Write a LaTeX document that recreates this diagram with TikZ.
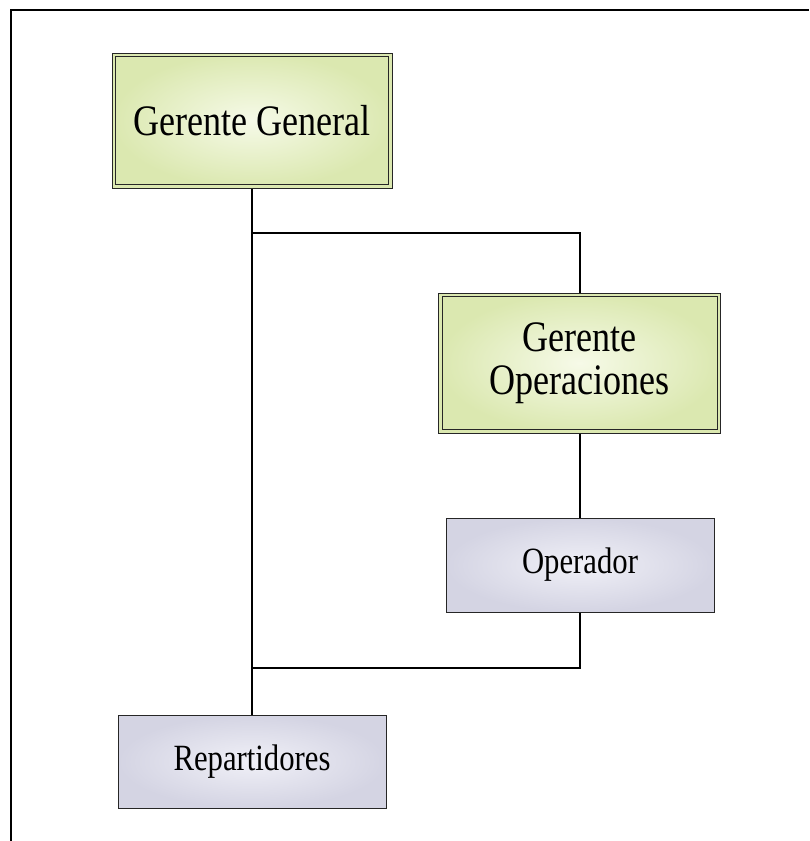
\documentclass[tikz,border=0pt]{standalone}
\usepackage{fontspec}
\setmainfont{Liberation Serif}
% slightly condensed serif for the box labels
\newfontfamily\boxfont[FakeStretch=0.83]{Liberation Serif}
\begin{document}
\begin{tikzpicture}[x=1pt,y=-1pt,
  line/.style={line width=1.8pt, black},
  manager/.style={draw=black!85, line width=1pt, inner color={rgb,255:red,246;green,250;blue,232},
    outer color={rgb,255:red,219;green,232;blue,176}, align=center, font=\boxfont\fontsize{43.5}{45}\selectfont},
  staff/.style={draw=black!85, line width=1pt, inner color={rgb,255:red,240;green,240;blue,247},
    outer color={rgb,255:red,212;green,212;blue,227}, align=center, font=\boxfont\fontsize{37}{40}\selectfont}]
\useasboundingbox (0,0) rectangle (809,841);
% page frame
\draw[line width=2pt] (11,841) -- (11,10) -- (809,10);

% boxes
\node[manager, minimum width=280pt, minimum height=135pt] (gg) at (252,120.5) {Gerente General};
\node[manager, minimum width=282pt, minimum height=140pt] (go) at (579.5,363) {\raisebox{-2pt}{Gerente}\\Operaciones};
\node[staff, minimum width=268pt, minimum height=94pt] (op) at (580,565) {\raisebox{-4pt}{Operador}};
\node[staff, minimum width=268pt, minimum height=93pt] (rep) at (252,761.5) {\raisebox{-4pt}{Repartidores}};

% inner frame of the manager boxes
\foreach \b in {gg,go}
  \draw[black!85, line width=0.8pt] ([shift={(4pt,4pt)}]\b.south west) rectangle ([shift={(-4pt,-4pt)}]\b.north east);

% connectors
\coordinate (j1) at (252,233);
\coordinate (j2) at (580,668);
\draw[line] (gg.south) -- (gg.south |- j1) -| (op.north |- go.north);
\draw[line] (gg.south) -- (rep.north);
\draw[line] (op.north |- go.south) -- (op.north);
\draw[line] (op.south) -- (j2) -| (rep.north);
\end{tikzpicture}
\end{document}
